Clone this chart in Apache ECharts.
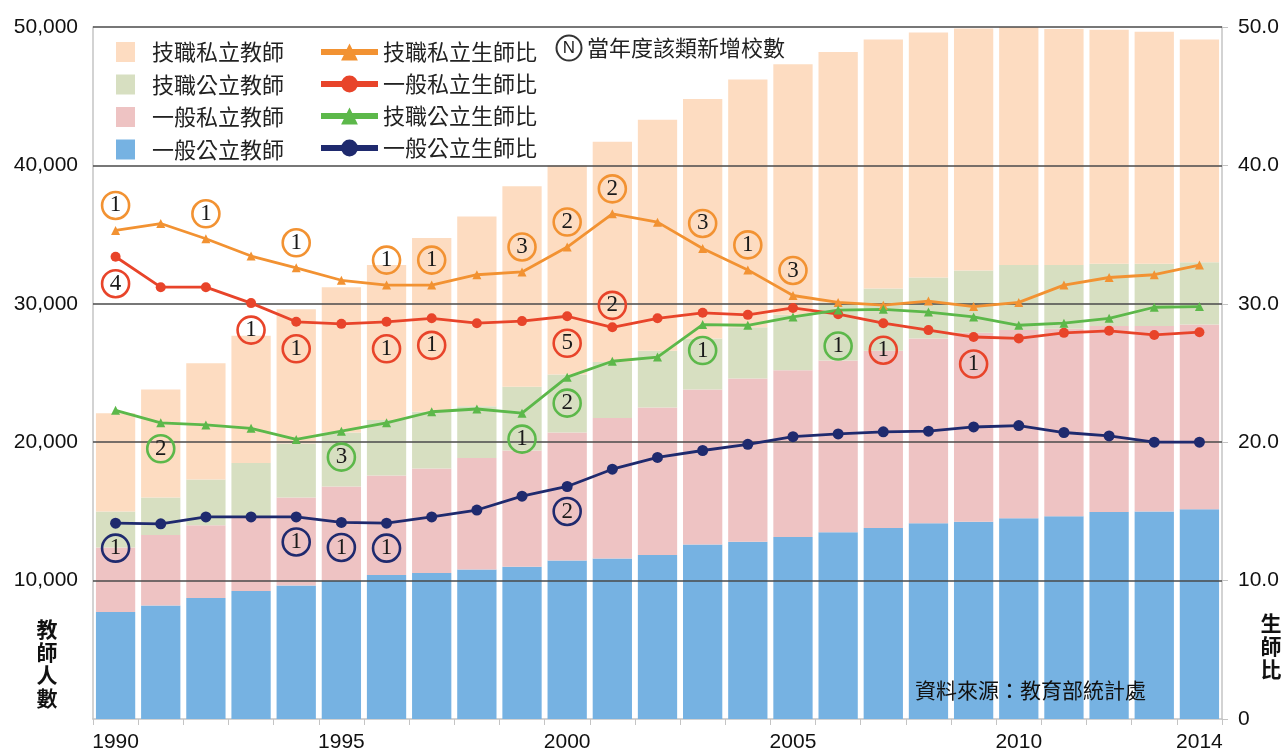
<!DOCTYPE html>
<html>
<head>
<meta charset="utf-8">
<script src="https://cdn.jsdelivr.net/npm/echarts@6/dist/echarts.min.js"></script>
<style>
  html, body { margin: 0; padding: 0; background: #fff; }
  #main { width: 1288px; height: 753px; }
</style>
</head>
<body>
<div id="main"></div>
<script>
const years = ['1990','1991','1992','1993','1994','1995','1996','1997','1998','1999','2000','2001','2002',
  '2003','2004','2005','2006','2007','2008','2009','2010','2011','2012','2013','2014'];
const shownYears = ['1990','1995','2000','2005','2010','2014'];

// teachers (stacked bars)
const genPubTeachers = [7730, 8200, 8750, 9250, 9650, 10000, 10400, 10550, 10800, 11000, 11450, 11600, 11850,
  12600, 12800, 13150, 13500, 13800, 14150, 14250, 14500, 14650, 14950, 15000, 15150];
const genPrivTeachers = [4670, 5100, 5250, 5350, 6350, 6800, 7200, 7550, 8050, 8400, 9250, 10150, 10650,
  11200, 11800, 12050, 12400, 12800, 13350, 13650, 13600, 13550, 13450, 13400, 13350];
const vocPubTeachers = [2600, 2700, 3300, 3900, 3900, 3900, 4000, 4100, 3750, 4600, 4200, 4050, 4100,
  3700, 3700, 4000, 4200, 4500, 4400, 4500, 4700, 4600, 4500, 4500, 4500];
const vocPrivTeachers = [7100, 7800, 8400, 9200, 9700, 10500, 11200, 12550, 13700, 14500, 15100, 15900, 16700,
  17300, 17900, 18100, 18100, 18000, 17700, 17500, 17200, 17050, 16900, 16750, 16100];

// student-teacher ratios
const vocPrivRatio = [35.3, 35.8, 34.7, 33.45, 32.6, 31.7, 31.35, 31.35, 32.1, 32.3, 34.1, 36.5, 35.9,
  34.0, 32.45, 30.6, 30.1, 29.9, 30.2, 29.8, 30.1, 31.35, 31.9, 32.1, 32.8];
const genPrivRatio = [33.4, 31.2, 31.2, 30.05, 28.7, 28.55, 28.7, 28.95, 28.6, 28.75, 29.1, 28.3, 28.95,
  29.35, 29.2, 29.7, 29.25, 28.6, 28.1, 27.6, 27.5, 27.9, 28.05, 27.75, 27.95];
const vocPubRatio = [22.3, 21.4, 21.25, 21.0, 20.2, 20.8, 21.4, 22.2, 22.4, 22.1, 24.7, 25.85, 26.15,
  28.5, 28.45, 29.05, 29.55, 29.6, 29.4, 29.05, 28.45, 28.6, 28.95, 29.75, 29.8];
const genPubRatio = [14.15, 14.1, 14.6, 14.6, 14.6, 14.2, 14.15, 14.6, 15.1, 16.1, 16.8, 18.05, 18.9,
  19.4, 19.85, 20.4, 20.6, 20.75, 20.8, 21.1, 21.2, 20.7, 20.45, 20.0, 20.0];

// new schools of that type in the year (circled numbers)
const vocPrivNew = [1, null, 1, null, 1, null, 1, 1, null, 3, 2, 2, null, 3, 1, 3, null, null, null, null, null, null, null, null, null];
const genPrivNew = [4, null, null, 1, 1, null, 1, 1, null, null, 5, 2, null, null, null, null, null, 1, null, 1, null, null, null, null, null];
const vocPubNew = [null, 2, null, null, null, 3, null, null, null, 1, 2, null, null, 1, null, null, 1, null, null, null, null, null, null, null, null];
const genPubNew = [1, null, null, null, 1, 1, 1, null, null, null, 2, null, null, null, null, null, null, null, null, null, null, null, null, null, null];

const cjk = '"Noto Sans CJK TC", "Noto Sans", sans-serif';
const num = '"Liberation Sans", Arial, sans-serif';

const bars = [
  { name: '一般公立教師', data: genPubTeachers, color: '#76b2e2' },
  { name: '一般私立教師', data: genPrivTeachers, color: '#eec3c3' },
  { name: '技職公立教師', data: vocPubTeachers, color: '#d7dfc1' },
  { name: '技職私立教師', data: vocPrivTeachers, color: '#fddcc1' }
];

const lines = [
  { name: '技職私立生師比', data: vocPrivRatio, news: vocPrivNew, color: '#f29232', symbol: 'triangle', size: 9, side: -25 },
  { name: '一般私立生師比', data: genPrivRatio, news: genPrivNew, color: '#e8442a', symbol: 'circle', size: 10, side: 27 },
  { name: '技職公立生師比', data: vocPubRatio, news: vocPubNew, color: '#5cb84a', symbol: 'triangle', size: 9, side: 26 },
  { name: '一般公立生師比', data: genPubRatio, news: genPubNew, color: '#1f2a6e', symbol: 'circle', size: 11, side: 25 }
];
// a few circles sit on the other side / farther away
const shifts = { '一般私立生師比|2001': -22, '技職公立生師比|2006': 36 };

const series = [];
bars.forEach((b, k) => {
  const s = {
    name: b.name, type: 'bar', stack: 'teachers', yAxisIndex: 0,
    data: b.data, barCategoryGap: '13%',
    itemStyle: { color: b.color }, z: 2
  };
  if (k === 0) {
    s.markLine = {
      silent: true, symbol: 'none', z: 5,
      label: { show: false },
      lineStyle: { color: '#4a4a4a', width: 1.6, type: 'solid' },
      data: [10000, 20000, 30000, 40000, 50000].map(v => ({ yAxis: v }))
    };
  }
  series.push(s);
});

lines.forEach(l => {
  series.push({
    name: l.name, type: 'line', yAxisIndex: 1, z: 10,
    symbol: l.symbol, symbolSize: l.size,
    lineStyle: { color: l.color, width: 2.8 },
    itemStyle: { color: l.color },
    data: l.data.map((v, i) => {
      const n = l.news[i];
      if (n == null) return v;
      const dy = shifts[l.name + '|' + years[i]] ?? l.side;
      return {
        value: v,
        label: {
          show: true, position: 'inside', offset: [0, dy],
          formatter: String(n),
          fontFamily: '"Liberation Serif", "DejaVu Serif", serif', fontSize: 23,
          color: '#1a1a1a',
          width: 25, height: 25, lineHeight: 26, align: 'center', verticalAlign: 'middle',
          borderColor: l.color, borderWidth: 2.6, borderRadius: 16, padding: [1, 1, 1, 1]
        }
      };
    })
  });
});

const myChart = echarts.init(document.querySelector('#main'));
const option = {
  animation: false,
  backgroundColor: '#fff',
  grid: { left: 93, right: 66, top: 27, bottom: 34 },
  legend: [
    {
      data: ['技職私立教師', '技職公立教師', '一般私立教師', '一般公立教師'],
      orient: 'vertical', left: 111, top: 36,
      itemWidth: 19, itemHeight: 20, itemGap: 10.5,
      icon: 'rect',
      textStyle: { fontFamily: cjk, fontSize: 22, color: '#222', padding: [0, 0, 0, 12] }
    },
    {
      data: ['技職私立生師比', '一般私立生師比', '技職公立生師比', '一般公立生師比'],
      orient: 'vertical', left: 313, top: 36,
      itemWidth: 57, itemHeight: 21, itemGap: 10,
      lineStyle: { width: 6 },
      textStyle: { fontFamily: cjk, fontSize: 22, color: '#222' }
    }
  ],
  xAxis: {
    type: 'category', data: years, boundaryGap: true,
    axisLine: { lineStyle: { color: '#c4c4c4', width: 1.5 } },
    axisTick: { show: true, interval: 0, length: 6, lineStyle: { color: '#c4c4c4' } },
    axisLabel: {
      interval: (i, v) => shownYears.includes(v),
      margin: 13, fontFamily: num, fontSize: 21, color: '#111'
    }
  },
  yAxis: [
    {
      type: 'value', min: 0, max: 50000, interval: 10000,
      axisLine: { show: true, lineStyle: { color: '#c4c4c4', width: 1.5 } },
      axisTick: { show: false },
      splitLine: { show: false },
      axisLabel: {
        margin: 15, fontFamily: num, fontSize: 21, color: '#111',
        formatter: v => v === 0 ? '' : v.toLocaleString('en-US')
      }
    },
    {
      type: 'value', min: 0, max: 50, interval: 10,
      axisLine: { show: true, lineStyle: { color: '#c4c4c4', width: 1.5 } },
      axisTick: { show: true, length: 6, lineStyle: { color: '#c4c4c4' } },
      splitLine: { show: false },
      axisLabel: {
        margin: 16, fontFamily: num, fontSize: 21, color: '#111',
        formatter: v => v === 0 ? '0' : v.toFixed(1)
      }
    }
  ],
  graphic: [
    { type: 'circle', shape: { cx: 569, cy: 48, r: 12.5 }, style: { fill: 'none', stroke: '#333', lineWidth: 2 } },
    { type: 'text', x: 569, y: 48, style: { text: 'N', fontFamily: num, fontSize: 17, fill: '#222', align: 'center', verticalAlign: 'middle' } },
    { type: 'text', x: 587, y: 48, style: { text: '當年度該類新增校數', fontFamily: cjk, fontSize: 22, fill: '#222', verticalAlign: 'middle' } },
    { type: 'text', x: 47, y: 618, style: { text: '教\n師\n人\n數', fontFamily: cjk, fontSize: 21, fontWeight: 'bold', lineHeight: 23, fill: '#111', align: 'center' } },
    { type: 'text', x: 1271, y: 612, style: { text: '生\n師\n比', fontFamily: cjk, fontSize: 21, fontWeight: 'bold', lineHeight: 23, fill: '#111', align: 'center' } },
    { type: 'text', x: 915, y: 690, z: 20, style: { text: '資料來源：教育部統計處', fontFamily: cjk, fontSize: 21, fill: '#111', verticalAlign: 'middle' } }
  ],
  series: series
};
option && myChart.setOption(option);
</script>
</body>
</html>
